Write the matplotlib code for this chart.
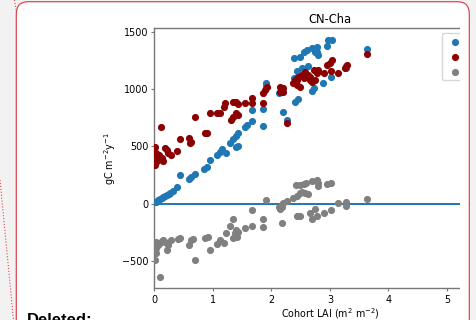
import numpy as np
import matplotlib
matplotlib.use("Agg")
import matplotlib.pyplot as plt
from matplotlib.patches import FancyBboxPatch, Rectangle

# values
gpp_lai = [0.01, 0.03, 0.06, 0.09, 0.12, 0.14, 0.18, 0.21, 0.24, 0.26, 0.31, 0.39,
           0.43, 0.59, 0.63, 0.69, 0.84, 0.89, 0.95, 1.06, 1.12, 1.16, 1.23, 1.29,
           1.35, 1.40, 1.43, 1.39, 1.43, 1.55, 1.58, 1.66, 1.66, 1.86, 1.86, 1.91,
           1.91, 2.13, 2.19, 2.26, 2.40, 2.46, 2.39, 2.49, 2.55, 2.60, 2.69, 2.77,
           2.78, 2.80, 2.75, 2.95, 2.97, 3.03, 2.43, 2.52, 2.62, 2.39, 2.69, 2.72,
           2.88, 3.01, 3.27, 3.27, 3.64]
gpp = [10, 17, 27, 40, 49, 58, 66, 75, 88, 95, 113, 148,
       253, 212, 230, 259, 303, 323, 381, 425, 454, 475, 440, 533,
       562, 591, 615, 492, 504, 672, 687, 819, 725, 827, 679, 1052,
       1028, 965, 798, 731, 891, 912, 1271, 1279, 1328, 1343, 1358, 1372,
       1328, 1300, 1328, 1376, 1431, 1431, 1162, 1183, 1206, 1096, 985, 1008,
       1057, 1104, 1183, 1206, 1352]

resp_lai = [0.11, 0.01, 0.03, 0.06, 0.12, 0.18, 0.21, 0.23, 0.29, 0.39, 0.43, 0.59,
            0.63, 0.60, 0.86, 0.89, 0.69, 0.95, 1.06, 1.12, 1.18, 1.20, 1.30, 1.35,
            1.39, 1.43, 1.34, 1.39, 1.43, 1.55, 1.66, 1.66, 1.86, 1.86, 1.89, 1.92,
            2.15, 2.18, 2.20, 2.15, 2.20, 2.26, 2.43, 2.43, 2.46, 2.52, 2.57, 2.55,
            2.63, 2.72, 2.77, 2.75, 2.66, 2.89, 3.00, 3.03, 3.14, 3.26, 3.29, 2.37,
            2.48, 2.65, 2.69, 2.80, 2.95, 3.02, 2.40, 3.64, 0.03, 0.15, 0.01, 0.04,
            0.07]
resp = [672, 492, 440, 381, 396, 484, 469, 440, 425, 463, 562, 571,
        541, 533, 615, 620, 760, 795, 790, 795, 847, 877, 731, 760,
        790, 775, 891, 891, 871, 882, 921, 877, 965, 877, 993, 1022,
        1022, 993, 1008, 979, 979, 702, 1037, 1081, 1110, 1125, 1153, 1096,
        1125, 1168, 1139, 1081, 1081, 1145, 1227, 1256, 1145, 1183, 1212, 1052,
        1022, 1110, 1066, 1168, 1212, 1162, 1081, 1306, 366, 373, 338, 407,
        425]

npp_lai = [0.01, 0.01, 0.03, 0.06, 0.09, 0.12, 0.15, 0.18, 0.21, 0.23, 0.29, 0.40,
           0.43, 0.59, 0.62, 0.65, 0.69, 0.86, 0.92, 0.95, 1.06, 1.12, 1.18, 1.22,
           1.29, 1.34, 1.34, 1.38, 1.40, 1.43, 1.38, 1.41, 1.55, 1.66, 1.66, 0.10,
           0.03, 0.02, 1.86, 1.86, 1.91, 2.12, 2.15, 2.18, 2.20, 2.26, 2.18, 2.37,
           2.43, 2.48, 2.52, 2.57, 2.63, 2.42, 2.49, 2.55, 2.59, 2.69, 2.77, 2.79,
           2.80, 2.95, 3.02, 2.43, 2.48, 2.66, 2.75, 2.69, 2.77, 2.89, 3.02, 3.14,
           3.28, 3.28, 3.64]
npp = [-493, -362, -333, -362, -347, -327, -318, -333, -406, -362, -318, -310,
       -303, -362, -318, -310, -493, -298, -289, -406, -356, -318, -347, -260,
       -193, -135, -303, -260, -231, -246, -289, -289, -211, -56, -193, -639,
       -391, -435, -135, -207, 31, -27, -50, -32, 8, 25, -167, 46,
       66, 90, 101, 95, 84, 163, 163, 171, 183, 200, 206, 183,
       154, 171, 178, -108, -108, -85, -50, -137, -108, -85, -56, 3,
       17, -18, 40]

labels = ["GPP", "AR", "NPP"]
colors = ["#1f77b4", "#8b0000", "gray"]

W, H = 477, 320
plt.rcParams["font.size"] = 6.9

fig = plt.figure(figsize=(W / 100, H / 100), dpi=100)
fig.patch.set_facecolor("#f2f2f2")

# page behind the chart
page = FancyBboxPatch((16.3 / W, 1 - 400 / H), (469.3 - 16.3) / W, (400 - 1.7) / H,
                      boxstyle="round,pad=0,rounding_size=0.025",
                      transform=fig.transFigure, facecolor="white",
                      edgecolor="none", zorder=-5)
fig.patches.append(page)

ax = fig.add_axes([154.5 / W, 1 - 288.3 / H, (505.5 - 154.5) / W, (288.3 - 28.3) / H])
ax.scatter(gpp_lai, gpp, s=17, color=colors[0], label=labels[0], zorder=3)
ax.scatter(resp_lai, resp, s=17, color=colors[1], label=labels[1], zorder=3)
ax.scatter(npp_lai, npp, s=17, color=colors[2], label=labels[2], zorder=3)
ax.axhline(0, color="#1f77b4", lw=1.4, zorder=2)
ax.set_xlim(0, 6)
ax.set_ylim(-741, 1533)
ax.set_xticks([0, 1, 2, 3, 4, 5])
ax.set_yticks([-500, 0, 500, 1000, 1500])
ax.set_title("CN-Cha", fontsize=8.3, pad=4)
ax.set_xlabel("Cohort LAI (m$^2$ m$^{-2}$)", labelpad=1.5)
ax.set_ylabel("gC m$^{-2}$y$^{-1}$", labelpad=3)
for sp in ax.spines.values():
    sp.set_color("#777777")
    sp.set_linewidth(1.0)
ax.tick_params(length=2.5, width=0.8, color="#777777", pad=2)
ax.legend(loc="upper left", bbox_to_anchor=(441.7 / W, 1 - 32.7 / H),
          bbox_transform=fig.transFigure, borderaxespad=0, fontsize=6.9)

# overlay in pixel units: crop of the picture, page border, notes
ov = fig.add_axes([0, 0, 1, 1], zorder=10)
ov.set_xlim(0, W)
ov.set_ylim(H, 0)
ov.axis("off")
ov.patch.set_alpha(0)
ov.add_patch(Rectangle((460, 20), 8.8, 310, facecolor="white", edgecolor="none"))
ov.add_patch(Rectangle((470, 0), 10, 330, facecolor="#f2f2f2", edgecolor="none"))
ov.add_patch(FancyBboxPatch((16.3, 1.7), 469.3 - 16.3, 400,
                            boxstyle="round,pad=0,rounding_size=12",
                            facecolor="none", edgecolor="#e0474c", lw=0.9))
ov.plot([14.5, 16.2], [0, 10], color="#e0474c", ls=":", lw=0.8)
ov.plot([0, 13.5], [180, 320], color="#e0474c", ls=":", lw=0.8)
ov.text(27, 325, "Deleted:", family="Liberation Sans", fontweight="bold",
        fontsize=12, va="baseline", ha="left")

fig.savefig("out.png", dpi=100, facecolor=fig.get_facecolor())
